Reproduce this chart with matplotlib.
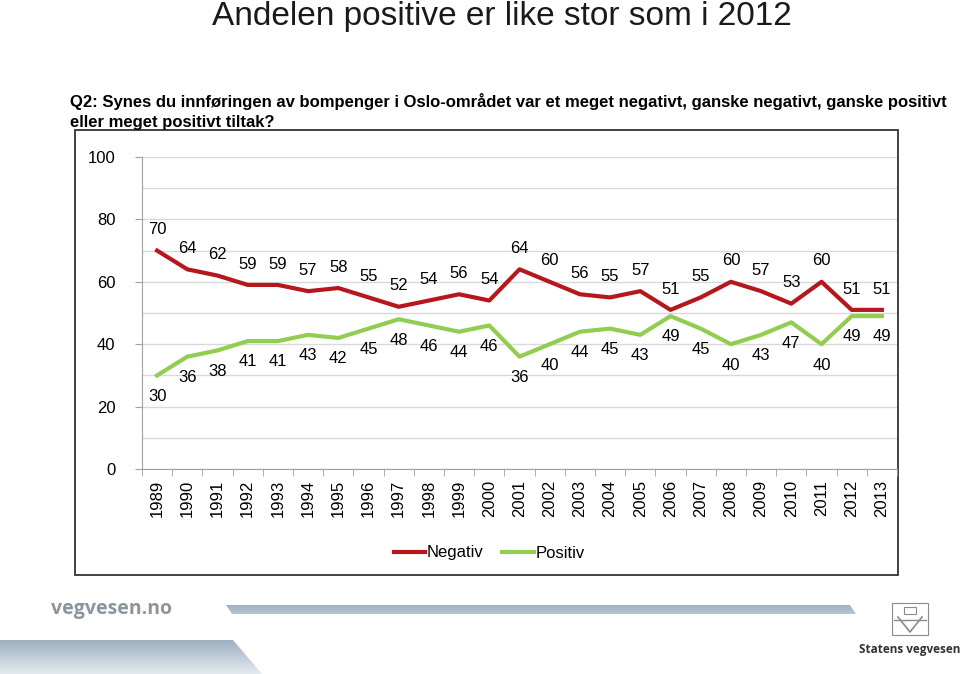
import numpy as np
import matplotlib
matplotlib.use("Agg")
import matplotlib.pyplot as plt
from matplotlib.patches import Polygon, Rectangle

plt.rcParams['font.family'] = ['Liberation Sans', 'DejaVu Sans']

years = [str(y) for y in range(1989, 2014)]
negativ = [70, 64, 62, 59, 59, 57, 58, 55, 52, 54, 56, 54, 64, 60, 56, 55, 57, 51, 55, 60, 57, 53, 60, 51, 51]
positiv = [30, 36, 38, 41, 41, 43, 42, 45, 48, 46, 44, 46, 36, 40, 44, 45, 43, 49, 45, 40, 43, 47, 40, 49, 49]

W, H = 960, 674
fig = plt.figure(figsize=(W / 100, H / 100), dpi=100)

# background layer in pixel coordinates for frame and footer
bg = fig.add_axes([0, 0, 1, 1], zorder=0)
bg.set_xlim(0, W)
bg.set_ylim(H, 0)
bg.axis('off')

bg.add_patch(Rectangle((75, 130), 823, 445, fill=False, edgecolor='#333333', linewidth=1.3))

def gradient_poly(ax, pts, top, bottom, y0, y1, x0, x1):
    grad = np.linspace(0, 1, 64).reshape(-1, 1)
    c0 = np.array(matplotlib.colors.to_rgb(top))
    c1 = np.array(matplotlib.colors.to_rgb(bottom))
    img = c0 + (c1 - c0) * grad[:, :, None]
    img = np.repeat(img, 2, axis=1)
    im = ax.imshow(img, extent=(x0, x1, y1, y0), aspect='auto', zorder=1)
    poly = Polygon(pts, closed=True, facecolor='none', edgecolor='none', transform=ax.transData)
    ax.add_patch(poly)
    im.set_clip_path(poly)

gradient_poly(bg, [(226, 605), (850, 605), (856, 614), (232, 614)], '#9fb0c0', '#b8c6d2', 605, 614, 226, 856)
gradient_poly(bg, [(0, 640), (233, 640), (262, 674), (0, 674)], '#9fb0c2', '#e4eaf0', 640, 674, 0, 262)
bg.set_xlim(0, W)
bg.set_ylim(H, 0)

bg.text(112, 609, 'vegvesen.no', fontsize=14, fontweight='bold', color='#8c959e',
        ha='center', va='center', family=['Open Sans', 'DejaVu Sans'])
bg.text(910, 650, 'Statens vegvesen', fontsize=8.5, fontweight='bold', color='#333333',
        ha='center', va='center', family=['Open Sans', 'DejaVu Sans'])
# simple logo sketch
bg.add_patch(Rectangle((892, 603), 36, 32, fill=False, edgecolor='#8a8a8a', linewidth=0.8))
bg.plot([898, 910, 922], [617, 632, 617], color='#8a8a8a', linewidth=1.2)
bg.plot([894, 926], [620, 620], color='#8a8a8a', linewidth=1.0)
bg.add_patch(Rectangle((904, 607), 12, 7, fill=False, edgecolor='#8a8a8a', linewidth=0.8))

fig.text(502 / W, 1 - 16 / H, 'Andelen positive er like stor som i 2012', fontsize=24,
         ha='center', va='center', color='#1a1a1a')
fig.text(70 / W, 1 - 102 / H,
         'Q2: Synes du innføringen av bompenger i Oslo-området var et meget negativt, ganske negativt, ganske positivt',
         fontsize=12, fontweight='bold', ha='left', va='center')
fig.text(70 / W, 1 - 122 / H, 'eller meget positivt tiltak?',
         fontsize=12, fontweight='bold', ha='left', va='center')

ax = fig.add_axes([142 / W, 1 - 469 / H, (897 - 142) / W, (469 - 157) / H], zorder=2)
ax.patch.set_alpha(0)
x = np.arange(len(years))
ax.plot(x, negativ, color='#B4181D', linewidth=3, label='Negativ', zorder=3)
ax.plot(x, positiv, color='#92CC50', linewidth=3, label='Positiv', zorder=3)

for xi, v in zip(x, negativ):
    ax.annotate(str(v), (xi, v), xytext=(0, 15), textcoords='offset points',
                ha='center', va='center', fontsize=12)
for xi, v in zip(x, positiv):
    ax.annotate(str(v), (xi, v), xytext=(0, -15), textcoords='offset points',
                ha='center', va='center', fontsize=12)

ax.set_xlim(-0.5, len(years) - 0.5)
ax.set_ylim(0, 100)
ax.set_yticks([0, 20, 40, 60, 80, 100])
ax.set_yticks(np.arange(0, 101, 10), minor=True)
ax.yaxis.grid(True, which='both', color='#d9d9d9', linewidth=1)
ax.set_axisbelow(True)
ax.tick_params(axis='y', which='minor', length=0)
ax.tick_params(axis='y', which='major', length=5, color='#a0a0a0', labelsize=12, pad=14)

ax.set_xticks(x)
ax.set_xticklabels(years, rotation=90, fontsize=12)
ax.tick_params(axis='x', which='major', length=0, pad=8)
ax.set_xticks(np.arange(-0.5, len(years)), minor=True)
ax.tick_params(axis='x', which='minor', length=5, color='#a0a0a0')

for s in ['top', 'right']:
    ax.spines[s].set_visible(False)
for s in ['left', 'bottom']:
    ax.spines[s].set_color('#a0a0a0')

ax.legend(loc='center', bbox_to_anchor=(489 / W, 1 - 553 / H), bbox_transform=fig.transFigure,
          ncol=2, frameon=False, fontsize=12, handlelength=1.9, handletextpad=0.1,
          columnspacing=1.1)

fig.savefig('out.png', dpi=100)
